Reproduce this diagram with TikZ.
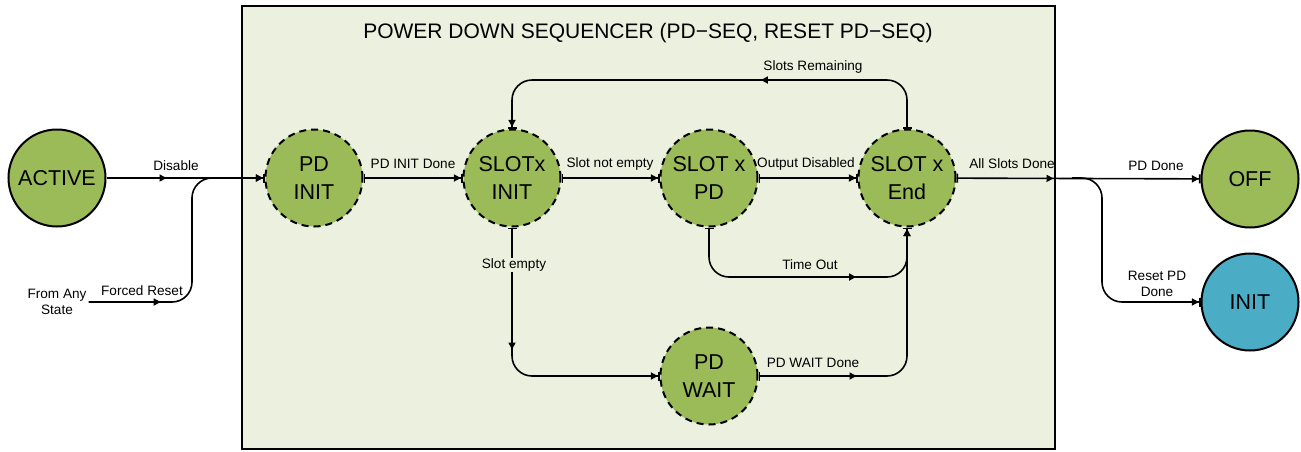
\documentclass[tikz,border=0pt]{standalone}
\usepackage{fontspec}
\setmainfont{Liberation Sans}
\usetikzlibrary{arrows.meta,decorations.markings}
\definecolor{stategreen}{HTML}{9BBB59}
\definecolor{stateblue}{HTML}{4BACC6}
\definecolor{boxgreen}{HTML}{EBF1DE}
\begin{document}
\begin{tikzpicture}[x=1pt,y=-1pt,
  state/.style={circle, draw=black, line width=2pt, fill=stategreen, minimum size=97pt, inner sep=0pt, align=center, font=\fontsize{21.5}{28}\selectfont},
  dstate/.style={state, dash pattern=on 7pt off 5pt},
  conn/.style={line width=1.6pt, rounded corners=20pt, {Bar[width=9pt]}-{Triangle[length=7pt,width=7pt]Bar[width=9pt]}},
  jconn/.style={line width=1.6pt, rounded corners=20pt, -{Triangle[length=7pt,width=7pt]Bar[width=9pt]}},
  lbl/.style={font=\fontsize{13.6}{16}\selectfont, inner sep=1pt, align=center},
  midarrow/.style={postaction={decorate}, decoration={markings, mark=at position #1 with {\arrow{Triangle[length=7pt,width=7pt]}}}}
]
\useasboundingbox (0,0) rectangle (1301,451);
\draw[fill=boxgreen, line width=2pt] (242,6) rectangle (1055,449);
\node[font=\fontsize{21}{24}\selectfont] (title) at (648,33) {POWER DOWN SEQUENCER (PD−SEQ, RESET PD−SEQ)};

\node[state] (active) at (57,178) {ACTIVE};
\node[dstate] (pdinit) at (314,178) {PD\\INIT};
\node[dstate] (slotinit) at (512,178) {SLOTx\\INIT};
\node[dstate] (slotpd) at (709,178) {SLOT x\\PD};
\node[dstate] (slotend) at (907,178) {SLOT x\\End};
\node[dstate] (pdwait) at (709,376) {PD\\WAIT};
\node[state] (off) at (1250,179) {OFF};
\node[state, fill=stateblue] (init) at (1250,302) {INIT};
\node[lbl, inner sep=2pt] (fromany) at (57,302) {From Any\\State};

\coordinate (split) at (1072,178);

\draw[jconn, midarrow=60pt] (active) -- (pdinit);
\draw[jconn, midarrow=72pt] (fromany.east) -- (192,302) -- (192,178) -- (pdinit.west);
\draw[conn] (pdinit) -- (slotinit);
\draw[conn] (slotinit) -- (slotpd);
\draw[conn] (slotpd) -- (slotend);
\draw[conn, midarrow=97pt] (slotend) -- (off);
\draw[jconn] (split) -- (1102,178) -- (1102,302) -- (init.west);
\draw[conn, midarrow=186pt] (slotend.north) -- (907,80) -- (512,80) -- (slotinit.north);
\draw[conn, midarrow=122pt] (slotinit.south) -- (512,376) -- (pdwait.west);
\draw[conn, midarrow=188pt] (slotpd.south) -- (709,277) -- (907,277) -- (slotend.south);
\draw[conn, midarrow=98pt] (pdwait.east) -- (907,376) -- (slotend.south);

\node[lbl] (l1) at (176,166) {Disable};
\node[lbl] (l2) at (142,291) {Forced Reset};
\node[lbl] (l3) at (413,164) {PD INIT Done};
\node[lbl] (l4) at (610,164) {Slot not empty};
\node[lbl] (l5) at (806,164) {Output Disabled};
\node[lbl] (l6) at (1012,164) {All Slots Done};
\node[lbl] (l7) at (813,67) {Slots Remaining};
\node[lbl, fill=boxgreen] (l8) at (514,265) {Slot empty};
\node[lbl] (l9) at (810,265) {Time Out};
\node[lbl] (l10) at (813,363) {PD WAIT Done};
\node[lbl] (l11) at (1156,166) {PD Done};
\node[lbl, font=\fontsize{13.6}{16}\selectfont] (l12) at (1157,284) {Reset PD\\Done};
\end{tikzpicture}
\end{document}
